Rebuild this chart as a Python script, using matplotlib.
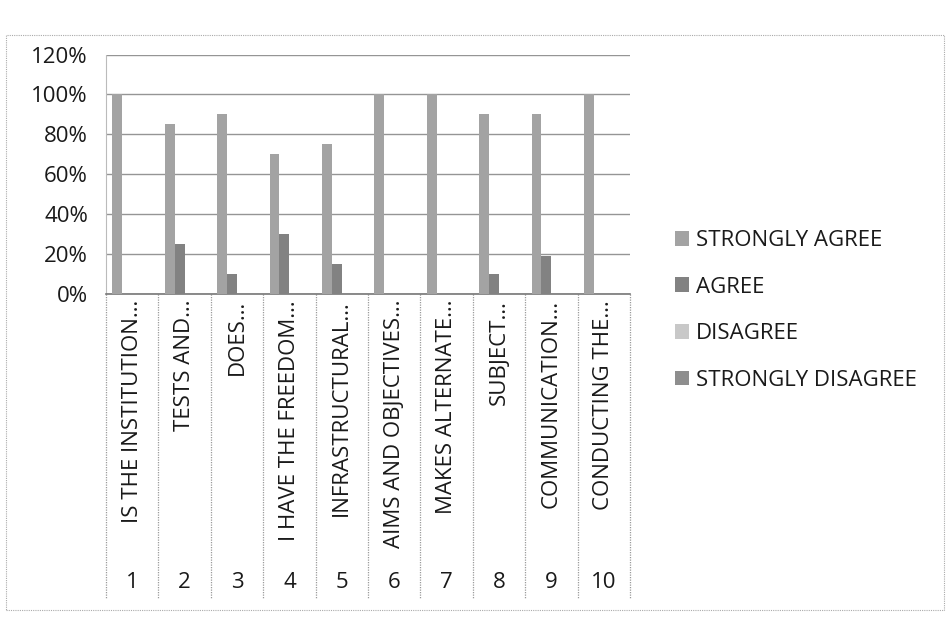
import matplotlib
matplotlib.use("Agg")
import matplotlib.pyplot as plt
import matplotlib.transforms as mtransforms
from matplotlib.patches import Rectangle
import numpy as np

plt.rcParams['font.family'] = ['Open Sans', 'DejaVu Sans']

categories = ["IS THE INSTITUTION…", "TESTS AND…", "DOES…", "I HAVE THE FREEDOM…",
              "INFRASTRUCTURAL…", "AIMS AND OBJECTIVES…", "MAKES ALTERNATE…",
              "SUBJECT…", "COMMUNICATION…", "CONDUCTING THE…"]
numbers = ["1", "2", "3", "4", "5", "6", "7", "8", "9", "10"]
series_names = ["STRONGLY AGREE", "AGREE", "DISAGREE", "STRONGLY DISAGREE"]
strongly_agree = [1.00, 0.85, 0.90, 0.70, 0.75, 1.00, 1.00, 0.90, 0.90, 1.00]
agree = [0.00, 0.25, 0.10, 0.30, 0.15, 0.00, 0.00, 0.10, 0.19, 0.00]
disagree = [0, 0, 0, 0, 0, 0, 0, 0, 0, 0]
strongly_disagree = [0, 0, 0, 0, 0, 0, 0, 0, 0, 0]
yticks = [0, 0.2, 0.4, 0.6, 0.8, 1.0, 1.2]

colors = ["#a3a3a3", "#828282", "#c8c8c8", "#8e8e8e"]
txt = "#1a1a1a"
fs = 16

fig = plt.figure(figsize=(9.5, 6.21), dpi=100)
ax = fig.add_axes([0.1116, 0.5266, 0.5516, 0.3856])

x = np.arange(len(categories))
bw = 0.19
data = [strongly_agree, agree, disagree, strongly_disagree]
for i, (vals, name, c) in enumerate(zip(data, series_names, colors)):
    ax.bar(x + (i - 1.5) * bw, vals, width=bw, color=c, label=name, zorder=3)

ax.set_xlim(-0.5, len(categories) - 0.5)
ax.set_ylim(0, 1.2)
ax.set_yticks(yticks)
ax.set_yticklabels([f"{int(round(v*100))}%" for v in yticks], fontsize=fs, color=txt)
ax.yaxis.grid(True, color="#959595", linewidth=1.0, zorder=0)
ax.set_xticks([])
ax.tick_params(axis='y', length=0, pad=13)
for s in ["top", "right"]:
    ax.spines[s].set_visible(False)
ax.spines["left"].set_color("#bbbbbb")
ax.spines["left"].set_linestyle((0, (1, 1)))
ax.spines["bottom"].set_color("#777777")
ax.spines["bottom"].set_linewidth(1.2)

trans = mtransforms.blended_transform_factory(ax.transData, ax.transAxes)
# category separators (multi-level axis)
for b in np.arange(len(categories) + 1) - 0.5:
    ax.plot([b, b], [0, -1.27], transform=trans, color="#9a9a9a",
            linewidth=0.9, linestyle=(0, (1, 1)), clip_on=False)
for xi, lab, num in zip(x, categories, numbers):
    ax.text(xi, -0.025, lab, transform=trans, rotation=90, ha='center', va='top',
            fontsize=fs, color=txt, clip_on=False)
    ax.text(xi, -1.205, num, transform=trans, ha='center', va='center',
            fontsize=fs, color=txt, clip_on=False)

leg = ax.legend(loc='center left', bbox_to_anchor=(0.689, 0.50), bbox_transform=fig.transFigure,
                frameon=False, fontsize=fs, handlelength=0.65, handleheight=0.65,
                handletextpad=0.3, labelspacing=1.15)
for t in leg.get_texts():
    t.set_color(txt)

# chart border
fig.patches.append(Rectangle((0.006, 0.018), 0.988, 0.925, transform=fig.transFigure,
                             fill=False, edgecolor="#aaaaaa", linewidth=0.8,
                             linestyle=(0, (1, 1))))

fig.savefig("out.png", dpi=100)
